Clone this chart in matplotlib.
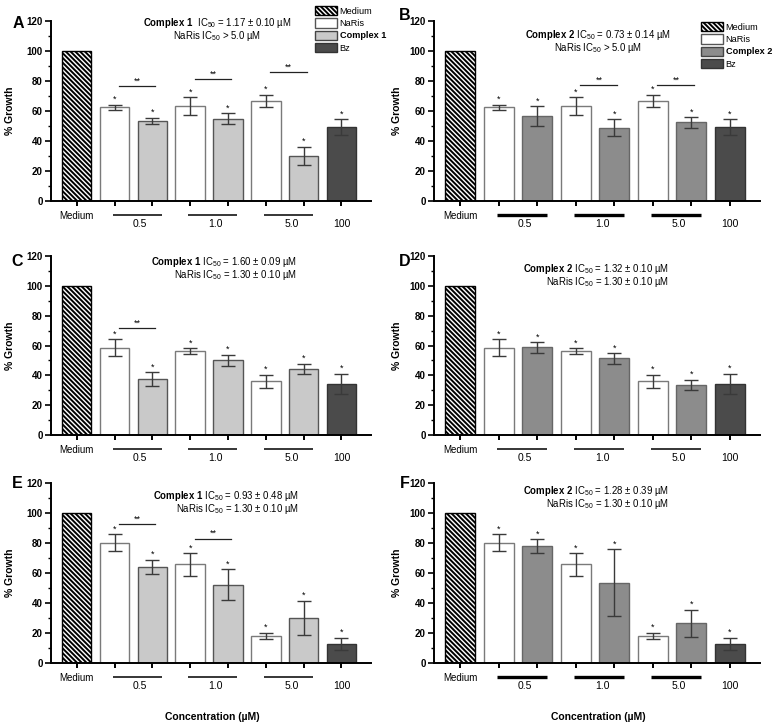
import numpy as np
import matplotlib
matplotlib.use("Agg")
import matplotlib.pyplot as plt
from matplotlib.patches import Patch

plt.rcParams['font.family'] = ['Liberation Sans', 'DejaVu Sans']
plt.rcParams['mathtext.fontset'] = 'custom'
plt.rcParams['mathtext.rm'] = 'Liberation Sans'
plt.rcParams['mathtext.bf'] = 'Liberation Sans:bold'
plt.rcParams['hatch.linewidth'] = 1.4

# ---- data ----
conc_labels = ['0.5', '1.0', '5.0']
bz_label = '100'

naris_1 = [62.4, 63.3, 66.7]
naris_1_err = [1.75, 6.0, 4.1]
naris_2 = [58.6, 56.2, 36.0]
naris_2_err = [5.7, 1.8, 4.3]
naris_3 = [80.3, 65.8, 18.0]
naris_3_err = [5.7, 7.5, 2.1]

cpx_A = [53.6, 55.0, 30.0]
cpx_A_err = [2.0, 3.4, 6.1]
cpx_B = [56.6, 49.0, 52.4]
cpx_B_err = [6.7, 5.4, 3.6]
cpx_C = [37.3, 50.2, 44.5]
cpx_C_err = [4.7, 3.7, 3.3]
cpx_D = [58.7, 51.4, 33.5]
cpx_D_err = [3.4, 3.5, 3.6]
cpx_E = [64.3, 52.1, 30.0]
cpx_E_err = [4.7, 10.3, 11.4]
cpx_F = [78.0, 53.6, 26.5]
cpx_F_err = [4.7, 22.3, 8.9]

bz = [49.1, 34.5, 12.8]
bz_err = [5.3, 6.7, 4.1]
medium = 100

# significance bars: (bar i, bar j, height)
sig_A = [(1, 2, 76.7), (3, 4, 81.3), (5, 6, 86.0)]
sig_B = [(3, 4, 77.2), (5, 6, 77.2)]
sig_C = [(1, 2, 71.5)]
sig_D = []
sig_E = [(1, 2, 92.6), (3, 4, 82.8)]
sig_F = []

ic_text = {
    'A': (r'$\bf{Complex\ 1}$  IC$_{50}$ = 1.17 ± 0.10 µM', r'NaRis IC$_{50}$ > 5.0 µM'),
    'B': (r'$\bf{Complex\ 2}$ IC$_{50}$ = 0.73 ± 0.14 µM', r'NaRis IC$_{50}$ > 5.0 µM'),
    'C': (r'$\bf{Complex\ 1}$ IC$_{50}$ = 1.60 ± 0.09 µM', r'NaRis IC$_{50}$ = 1.30 ± 0.10 µM'),
    'D': (r'$\bf{Complex\ 2}$ IC$_{50}$ = 1.32 ± 0.10 µM', r'NaRis IC$_{50}$ = 1.30 ± 0.10 µM'),
    'E': (r'$\bf{Complex\ 1}$ IC$_{50}$ = 0.93 ± 0.48 µM', r'NaRis IC$_{50}$ = 1.30 ± 0.10 µM'),
    'F': (r'$\bf{Complex\ 2}$ IC$_{50}$ = 1.28 ± 0.39 µM', r'NaRis IC$_{50}$ = 1.30 ± 0.10 µM'),
}

W, H = 776, 727
fig = plt.figure(figsize=(W / 100, H / 100), dpi=100)

HATCH = '\\' * 7


def fx(x):
    return x / W


def fy(y):
    return 1 - y / H


def make_axes(x0, x1, y0, y1):
    return fig.add_axes([fx(x0), fy(y1), fx(x1 - x0), (y1 - y0) / H])


c1_color = '#c9c9c9'
c2_color = '#8c8c8c'
bz_color = '#4b4b4b'


def draw_panel(ax, naris, naris_err, cpx, cpx_err, bzv, bzerr, cpx_col, cpx_edge, sigs, line_w):
    xs = np.arange(8)
    width = 0.78
    ax.bar(0, medium, width, color='white', edgecolor='black', hatch=HATCH, linewidth=1.0)
    vals, errs, faces, edges = [], [], [], []
    for k in range(3):
        vals += [naris[k], cpx[k]]
        errs += [naris_err[k], cpx_err[k]]
        faces += ['white', cpx_col]
        edges += ['#7a7a7a', cpx_edge]
    vals.append(bzv)
    errs.append(bzerr)
    faces.append(bz_color)
    edges.append('#333333')
    ax.bar(xs[1:], vals, width, color=faces, edgecolor=edges, linewidth=1.0)
    ax.errorbar(xs[1:], vals, yerr=errs, fmt='none', ecolor='#3a3a3a',
                elinewidth=1.0, capsize=5, capthick=1.0)
    for x, v, e in zip(xs[1:], vals, errs):
        ax.annotate('*', (x, v + e), xytext=(0, 0.5), textcoords='offset points',
                    ha='center', va='bottom', fontsize=6.5)
    for i, j, h in sigs:
        ax.plot([i + 0.12, j + 0.08], [h, h], color='#222222', lw=0.9)
        ax.annotate('**', ((i + j) / 2 + 0.1, h), xytext=(0, 0.5), textcoords='offset points',
                    ha='center', va='bottom', fontsize=6.5)

    ax.set_xlim(-0.68, 7.78)
    ax.set_ylim(0, 120)
    ax.set_yticks(np.arange(0, 121, 20))
    ax.set_yticks(np.arange(10, 120, 20), minor=True)
    ax.set_xticks(xs)
    ax.set_xticklabels([])
    for s in ['top', 'right']:
        ax.spines[s].set_visible(False)
    for s in ['left', 'bottom']:
        ax.spines[s].set_linewidth(1.4)
    ax.tick_params(axis='y', which='major', length=4, width=1.2, labelsize=7, pad=2)
    ax.tick_params(axis='y', which='minor', length=2.5, width=1.0)
    ax.tick_params(axis='x', length=3.5, width=1.4)
    for lab in ax.get_yticklabels():
        lab.set_fontweight('bold')

    tr = ax.get_xaxis_transform()
    ax.annotate('Medium', (0, 0), xycoords=tr, xytext=(0, -10.5), textcoords='offset points',
                ha='center', va='center', fontsize=7)
    for k, lab in enumerate(conc_labels):
        a, b = 1 + 2 * k, 2 + 2 * k
        x0, x1 = a - 0.05, b + 0.25
        ax.plot([x0, x1], [-9.5, -9.5], color='black', lw=line_w, clip_on=False,
                solid_capstyle='butt')
        ax.annotate(lab, ((a + b) / 2 + 0.18, 0), xycoords=tr, xytext=(0, -16.5),
                    textcoords='offset points', ha='center', va='center', fontsize=7.5)
    ax.annotate(bz_label, (7, 0), xycoords=tr, xytext=(0, -16.5), textcoords='offset points',
                ha='center', va='center', fontsize=7.5)


rows = [(21, 201), (256, 435), (483, 663)]
cols = [(51, 371), (434, 760)]

panels = [
    ('A', 0, 0, naris_1, naris_1_err, cpx_A, cpx_A_err, 0, c1_color, '#555555', sig_A, 1.1),
    ('B', 0, 1, naris_1, naris_1_err, cpx_B, cpx_B_err, 0, c2_color, '#666666', sig_B, 2.4),
    ('C', 1, 0, naris_2, naris_2_err, cpx_C, cpx_C_err, 1, c1_color, '#555555', sig_C, 1.1),
    ('D', 1, 1, naris_2, naris_2_err, cpx_D, cpx_D_err, 1, c2_color, '#666666', sig_D, 1.1),
    ('E', 2, 0, naris_3, naris_3_err, cpx_E, cpx_E_err, 2, c1_color, '#555555', sig_E, 1.1),
    ('F', 2, 1, naris_3, naris_3_err, cpx_F, cpx_F_err, 2, c2_color, '#666666', sig_F, 2.4),
]

letter_pos = {'A': (18, 23), 'B': (405, 16), 'C': (17, 261), 'D': (405, 261),
              'E': (17, 484), 'F': (405, 484)}
# (x, y line1, y line2, alignment)
ic_pos = {'A': (217, 23, 36, 'center'), 'B': (598, 35, 48, 'center'),
          'C': (297, 262, 275, 'right'), 'D': (669, 269, 282, 'right'),
          'E': (299, 496, 509, 'right'), 'F': (669, 491, 504, 'right')}

for name, r, c, nr, nre, cp, cpe, bi, col, edge, sigs, lw in panels:
    y0, y1 = rows[r]
    x0, x1 = cols[c]
    ax = make_axes(x0, x1, y0, y1)
    draw_panel(ax, nr, nre, cp, cpe, bz[bi], bz_err[bi], col, edge, sigs, lw)
    lx, ly = letter_pos[name]
    fig.text(fx(lx), fy(ly), name, fontsize=11.5, fontweight='bold', ha='center', va='center')
    ylx = 10 if c == 0 else 397
    fig.text(fx(ylx), fy((y0 + y1) / 2), '% Growth', rotation=90, fontsize=7.5,
             fontweight='bold', ha='center', va='center')
    tx, t1, t2, al = ic_pos[name]
    fig.text(fx(tx), fy(t1), ic_text[name][0], fontsize=6.9, ha=al, va='center')
    fig.text(fx(tx), fy(t2), ic_text[name][1], fontsize=6.9, ha=al, va='center')

    if name in ('A', 'B'):
        cname = 'Complex 1' if name == 'A' else 'Complex 2'
        handles = [Patch(facecolor='white', edgecolor='black', hatch=HATCH, label='Medium'),
                   Patch(facecolor='white', edgecolor='#555555', label='NaRis'),
                   Patch(facecolor=col, edgecolor='#444444', label=cname),
                   Patch(facecolor=bz_color, edgecolor='#333333', label='Bz')]
        top = 6 if name == 'A' else 22
        left = 315 if name == 'A' else 701
        leg = fig.legend(handles=handles, loc='upper left', bbox_to_anchor=(fx(left), fy(top)),
                         frameon=False, fontsize=6.6, handlelength=2.4, handleheight=1.15,
                         labelspacing=0.3, handletextpad=0.3, borderpad=0, borderaxespad=0)
        for t in leg.get_texts():
            if t.get_text() == cname:
                t.set_fontweight('bold')

for cx in (212, 598):
    fig.text(fx(cx), fy(717), 'Concentration (µM)', fontsize=7.5, fontweight='bold',
             ha='center', va='center')

fig.savefig('out.png', dpi=100)
